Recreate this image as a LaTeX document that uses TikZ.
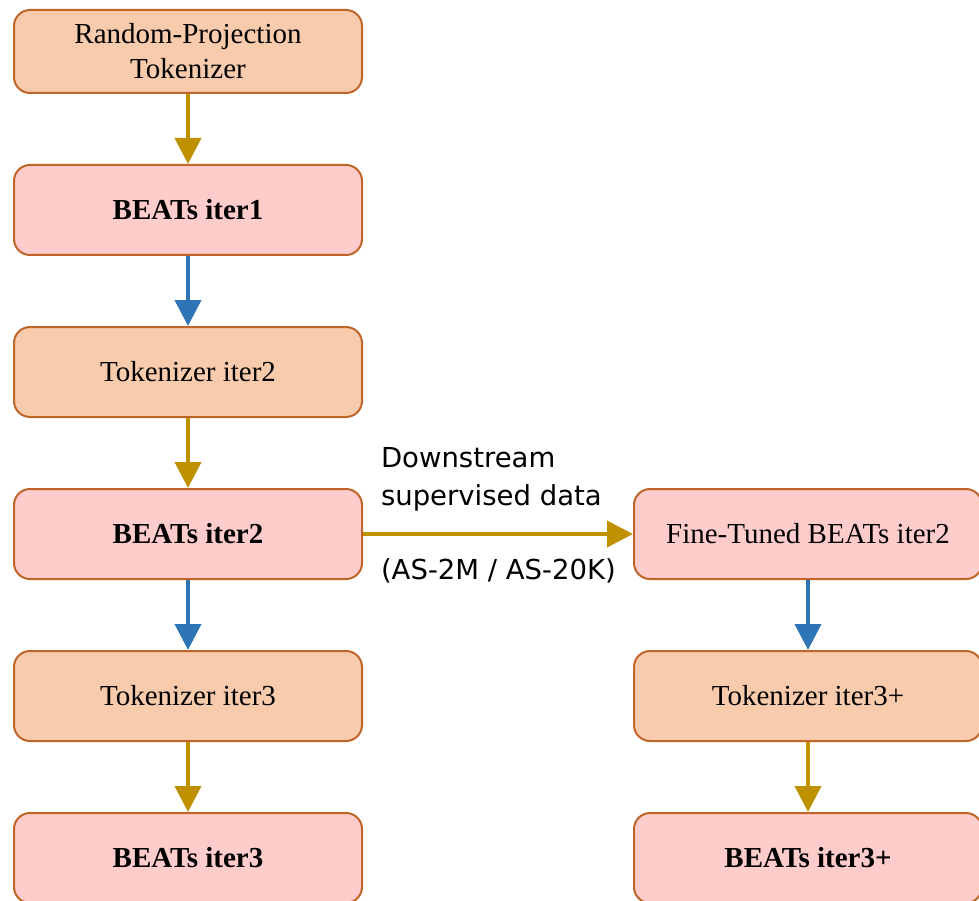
\documentclass[tikz,border=0pt]{standalone}
\usepackage{fontspec}
\setmainfont{Liberation Serif}
\newfontfamily\lblfont{DejaVu Sans}
\usetikzlibrary{arrows.meta,positioning}
\definecolor{tokfill}{HTML}{F8CBAD}
\definecolor{beatsfill}{HTML}{FFCCCC}
\definecolor{boxline}{HTML}{C0652A}
\definecolor{goldline}{HTML}{BF9000}
\definecolor{blueline}{HTML}{2E75B6}
\tikzset{
  box/.style = {rectangle, rounded corners=16pt, draw=boxline, line width=2pt,
    minimum width=348pt, minimum height=90pt, inner sep=0pt, align=center,
    font=\fontsize{29}{35}\selectfont},
  tok_n/.style = {box, fill=tokfill},% tokenizer
  beats_n/.style = {box, fill=beatsfill, font=\fontsize{29}{35}\selectfont\bfseries},% BEATs model
  ft_n/.style = {box, fill=beatsfill},% fine-tuned model
  gold_a/.style = {draw=goldline, line width=4pt, -{Triangle[width=26pt,length=26pt]}},% tokenizer -> model
  blue_a/.style = {draw=blueline, line width=4pt, -{Triangle[width=26pt,length=26pt]}},% model -> tokenizer
  lbl/.style = {inner sep=0pt, align=left, font=\lblfont\fontsize{27.5}{38}\selectfont}
}
\begin{document}
\begin{tikzpicture}[x=1pt, y=1pt, node distance=70pt]
\path [use as bounding box, clip] (0,0) rectangle (979,-901);
% left column
\node [tok_n, minimum height=83pt] (rpt) at (188,-51.5) {Random-Projection\\Tokenizer};
\node [beats_n, below=of rpt] (beats1) {BEATs iter1};
\node [tok_n, below=of beats1] (tok2) {Tokenizer iter2};
\node [beats_n, below=of tok2] (beats2) {BEATs iter2};
\node [tok_n, below=of beats2] (tok3) {Tokenizer iter3};
\node [beats_n, below=of tok3] (beats3) {BEATs iter3};
% right column
\node [ft_n, right=270pt of beats2] (ft2) {Fine-Tuned BEATs iter2};
\node [tok_n, below=of ft2] (tok3p) {Tokenizer iter3+};
\node [beats_n, below=of tok3p] (beats3p) {BEATs iter3+};

\draw [gold_a] (rpt.south) -- (beats1.north);
\draw [blue_a] (beats1.south) -- (tok2.north);
\draw [gold_a] (tok2.south) -- (beats2.north);
\draw [blue_a] (beats2.south) -- (tok3.north);
\draw [gold_a] (tok3.south) -- (beats3.north);
\draw [blue_a] (ft2.south) -- (tok3p.north);
\draw [gold_a] (tok3p.south) -- (beats3p.north);
\draw [gold_a] (beats2.east) --
  node [lbl, pos=0, anchor=south west, xshift=16pt, yshift=21pt] (dsup) {Downstream\\supervised data}
  node [lbl, pos=0, anchor=north west, xshift=16pt, yshift=-23pt] (dset) {(AS-2M / AS-20K)}
  (ft2.west);
\end{tikzpicture}
\end{document}
